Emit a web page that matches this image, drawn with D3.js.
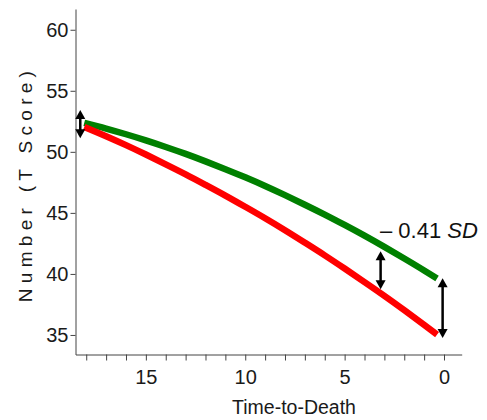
<!DOCTYPE html>
<html>
<head>
<meta charset="utf-8">
<script src="https://cdn.jsdelivr.net/npm/d3@7"></script>
<style>
  body { margin: 0; background: #fff; }
  svg { display: block; font-family: "Liberation Sans", Arial, sans-serif; }
</style>
</head>
<body>
<div id="plot"></div>
<script>
// Chart size
const width = 487;
const height = 420;

// Data
const times = [18.1, 17, 16, 15, 14, 13, 12, 11, 10, 9, 8, 7, 6, 5, 4, 3, 2, 1, 0.35];
const greenValues = [52.38, 51.91, 51.44, 50.94, 50.40, 49.83, 49.22, 48.58, 47.91, 47.20,
  46.45, 45.67, 44.86, 44.01, 43.13, 42.21, 41.26, 40.28, 39.62];
const redValues = [52.04, 51.28, 50.55, 49.78, 48.98, 48.16, 47.30, 46.42, 45.50, 44.56,
  43.58, 42.56, 41.52, 40.44, 39.33, 38.20, 37.03, 35.83, 35.03];
const xTicks = d3.range(0, 19);
const yTicks = [35, 40, 45, 50, 55, 60];

// Double arrows: time, top value, bottom value
const arrowTimes = [18.3, 3.19, 0.07];
const arrowTops = [53.42, 41.86, 39.65];
const arrowBottoms = [51.12, 38.75, 34.75];

const svg = d3.select("#plot")
  .append("svg")
  .attr("width", width)
  .attr("height", height);

// Scales (time runs backwards towards death)
const x = d3.scaleLinear()
  .domain([18.54, -0.89])
  .range([75.5, 461.7]);

const y = d3.scaleLinear()
  .domain([33.4, 61.7])
  .range([354.5, 9]);

// X axis
svg.append("g")
  .attr("transform", `translate(0,${y(33.4)})`)
  .call(d3.axisBottom(x)
    .tickValues(xTicks)
    .tickFormat(d => d % 5 === 0 ? d : "")
    .tickSize(6)
    .tickSizeOuter(0)
    .tickPadding(9));

// Y axis
svg.append("g")
  .attr("transform", `translate(${x(18.54)},0)`)
  .call(d3.axisLeft(y)
    .tickValues(yTicks)
    .tickSize(5)
    .tickSizeOuter(0)
    .tickPadding(2));

svg.selectAll(".domain, .tick line").attr("stroke", "#444");
svg.selectAll(".tick text")
  .attr("fill", "#1a1a1a")
  .style("font-size", "20px")
  .style("font-family", "'Liberation Sans', Arial, sans-serif");

// Axis titles
svg.append("text")
  .attr("x", 294)
  .attr("y", 414)
  .attr("text-anchor", "middle")
  .style("font-size", "19.5px")
  .attr("fill", "#1a1a1a")
  .text("Time-to-Death");

svg.append("text")
  .attr("transform", "translate(32,184) rotate(-90)")
  .attr("text-anchor", "middle")
  .style("font-size", "19px")
  .style("letter-spacing", "5.3px")
  .attr("fill", "#1a1a1a")
  .text("Number (T Score)");

// Lines
const line = d3.line()
  .x((d, i) => x(times[i]))
  .y(d => y(d))
  .curve(d3.curveMonotoneX);

svg.append("path")
  .datum(greenValues)
  .attr("d", line)
  .attr("fill", "none")
  .attr("stroke", "#008000")
  .attr("stroke-width", 6.5);

svg.append("path")
  .datum(redValues)
  .attr("d", line)
  .attr("fill", "none")
  .attr("stroke", "#ff0000")
  .attr("stroke-width", 6.5);

// Double-headed arrows
const headW = 5;
const headH = 9;
arrowTimes.forEach((t, i) => {
  const ax = x(t);
  const top = y(arrowTops[i]);
  const bottom = y(arrowBottoms[i]);
  svg.append("line")
    .attr("x1", ax).attr("x2", ax)
    .attr("y1", top + headH - 1).attr("y2", bottom - headH + 1)
    .attr("stroke", "#000")
    .attr("stroke-width", 2.5);
  svg.append("path")
    .attr("d", `M${ax},${top}L${ax - headW},${top + headH}L${ax + headW},${top + headH}Z`)
    .attr("fill", "#000");
  svg.append("path")
    .attr("d", `M${ax},${bottom}L${ax - headW},${bottom - headH}L${ax + headW},${bottom - headH}Z`)
    .attr("fill", "#000");
});

// Effect size label
const label = svg.append("text")
  .attr("x", x(3.22))
  .attr("y", y(42.97))
  .style("font-size", "22px")
  .attr("fill", "#111");
label.append("tspan").text("\u2013 0.41 ");
label.append("tspan").style("font-style", "italic").text("SD");
</script>
</body>
</html>
